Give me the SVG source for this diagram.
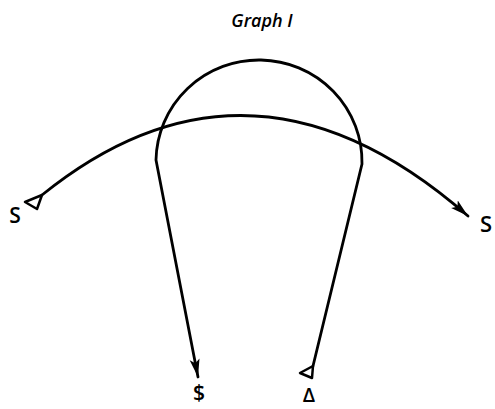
<svg xmlns="http://www.w3.org/2000/svg" width="495" height="409" viewBox="0 0 495 409">
<style>
.ln{fill:none;stroke:#000;stroke-width:2.8;stroke-linejoin:round;stroke-linecap:round}
.lbl{font-family:"Open Sans","Liberation Sans",sans-serif;font-weight:600;fill:#000}
.tail{fill:#fff;stroke:#000;stroke-width:2.5;stroke-linejoin:round}
</style>
<defs>
<marker id="arr" markerUnits="userSpaceOnUse" markerWidth="20" markerHeight="12" refX="18" refY="5" orient="auto">
<path d="M0,0 L18,5 L0,10 L4,5 Z" fill="#000"/>
</marker>
</defs>
<text x="262" y="27" class="lbl" font-size="18" font-style="italic" text-anchor="middle">Graph I</text>
<g id="connectors">
<path class="ln" d="M42,195 Q251,26 468,216" marker-end="url(#arr)"/>
<path class="ln" d="M313,366 L362,164 A103,102 0 1 0 156,160 L198,377" marker-end="url(#arr)"/>
</g>
<g id="tail-left"><polygon class="tail" points="42,195 25,202 37,209"/></g>
<g id="tail-bottom"><polygon class="tail" points="313,366 300,373 312,378"/></g>
<g id="node-s-left"><text class="lbl" x="15" y="223" font-size="21" text-anchor="middle">S</text></g>
<g id="node-s-right"><text class="lbl" x="486" y="232" font-size="22" text-anchor="middle">S</text></g>
<g id="node-dollar"><text class="lbl" x="199" y="400" font-size="21" text-anchor="middle">$</text></g>
<g id="node-delta"><text class="lbl" x="309" y="402" font-size="20" text-anchor="middle">Δ</text></g>
</svg>
